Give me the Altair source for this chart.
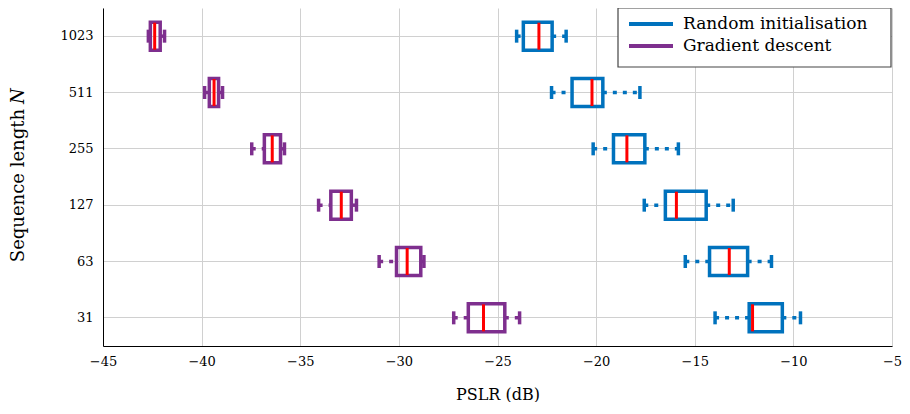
import altair as alt
import pandas as pd

# Sequence lengths (top to bottom)
N = ["1023", "511", "255", "127", "63", "31"]

# Gradient descent box statistics (dB)
gd_min = [-42.70, -39.85, -37.46, -34.07, -31.00, -27.22]
gd_q1 = [-42.60, -39.61, -36.82, -33.45, -30.12, -26.48]
gd_med = [-42.38, -39.37, -36.42, -32.92, -29.58, -25.71]
gd_q3 = [-42.10, -39.14, -36.00, -32.41, -28.89, -24.63]
gd_max = [-41.88, -38.94, -35.80, -32.15, -28.73, -23.88]

# Random initialisation box statistics (dB)
ri_min = [-24.03, -22.26, -20.15, -17.56, -15.48, -13.97]
ri_q1 = [-23.69, -21.22, -19.12, -16.49, -14.25, -12.24]
ri_med = [-22.90, -20.21, -18.44, -15.93, -13.25, -12.07]
ri_q3 = [-22.23, -19.66, -17.53, -14.42, -12.32, -10.56]
ri_max = [-21.52, -17.78, -15.83, -13.05, -11.11, -9.64]

methods = ["Random initialisation", "Gradient descent"]
colors = ["#0072BD", "#7E2F8E"]
x_ticks = [-45, -40, -35, -30, -25, -20, -15, -10, -5]

rows = []
for name, mn, q1, md, q3, mx in [
    ("Random initialisation", ri_min, ri_q1, ri_med, ri_q3, ri_max),
    ("Gradient descent", gd_min, gd_q1, gd_med, gd_q3, gd_max),
]:
    for i, n in enumerate(N):
        rows.append(dict(N=n, method=name, lo=mn[i], q1=q1[i], med=md[i], q3=q3[i], hi=mx[i]))
df = pd.DataFrame(rows)

FONT = "DejaVu Serif"
W, H = 789, 338

xscale = alt.Scale(domain=[-45, -5], nice=False, zero=False)
xaxis = alt.Axis(values=x_ticks, title="PSLR (dB)", titleY=53, titleBaseline="alphabetic",
                 labelFlush=False, labelOverlap=False, labelPadding=9)
y = alt.Y("N:N", sort=N, scale=alt.Scale(paddingInner=0, paddingOuter=0),
          axis=alt.Axis(title=None, labelPadding=10))

cscale = alt.Scale(domain=methods, range=colors)
color = alt.Color("method:N", scale=cscale, legend=None)

base = alt.Chart(df)

whisk_lo = base.mark_rule(strokeDash=[4, 6], strokeWidth=3.5).encode(
    x=alt.X("lo:Q", scale=xscale, axis=xaxis), x2="q1:Q", y=y, color=color)
whisk_hi = base.mark_rule(strokeDash=[4, 6], strokeWidth=3.5).encode(
    x=alt.X("q3:Q", scale=xscale), x2="hi:Q", y=y, color=color)
cap_lo = base.mark_tick(thickness=3.5, size=13, opacity=1).encode(
    x=alt.X("lo:Q", scale=xscale), y=y, color=color)
cap_hi = base.mark_tick(thickness=3.5, size=13, opacity=1).encode(
    x=alt.X("hi:Q", scale=xscale), y=y, color=color)
box = base.mark_bar(filled=False, strokeWidth=3.5, size=28).encode(
    x=alt.X("q1:Q", scale=xscale), x2="q3:Q", y=y, color=color)
median = base.mark_tick(color="red", thickness=3, size=27, opacity=1).encode(
    x=alt.X("med:Q", scale=xscale), y=y)

# y-axis title with italic N
ytitle = alt.Chart(pd.DataFrame({"t": ["Sequence length"]})).mark_text(
    angle=270, align="right", baseline="middle", font=FONT, fontSize=18, color="black"
).encode(x=alt.value(-84), y=alt.value(101), text="t:N")
ytitle_n = alt.Chart(pd.DataFrame({"t": ["N"]})).mark_text(
    angle=270, align="left", baseline="middle", font=FONT, fontSize=18, fontStyle="italic",
    color="black"
).encode(x=alt.value(-84), y=alt.value(96), text="t:N")

# legend (box, line symbols, labels)
leg_box = alt.Chart(pd.DataFrame({"a": [0]})).mark_rect(
    fill="white", stroke="#444", strokeWidth=1.2
).encode(x=alt.value(515), x2=alt.value(W - 1), y=alt.value(0), y2=alt.value(59))
leg_layers = [leg_box]
for i, (m, c) in enumerate(zip(methods, colors)):
    ldf = pd.DataFrame({"method": [m]})
    leg_layers.append(alt.Chart(ldf).mark_rule(color=c, strokeWidth=4).encode(
        x=alt.value(526), x2=alt.value(570), y=alt.value(16 + 22 * i)))
    leg_layers.append(alt.Chart(ldf).mark_text(
        align="left", baseline="middle", font=FONT, fontSize=17, color="black"
    ).encode(x=alt.value(580), y=alt.value(16 + 22 * i), text="method:N"))

chart = alt.layer(whisk_lo, whisk_hi, cap_lo, cap_hi, box, median, ytitle, ytitle_n,
                  *leg_layers).properties(
    width=W, height=H,
    autosize=alt.AutoSizeParams(type="none"),
    padding={"left": 95, "top": 0, "right": 10, "bottom": 56},
).configure_view(strokeWidth=0).configure_axis(
    grid=True, gridColor="#d0d0d0", gridWidth=1, domainColor="black", domainWidth=1,
    ticks=False, labelFont=FONT, labelFontSize=13, labelColor="black",
    titleFont=FONT, titleFontSize=16, titleFontWeight="normal", titleColor="black",
)

chart.save("out.html", embed_options={"renderer": "svg", "actions": False})
